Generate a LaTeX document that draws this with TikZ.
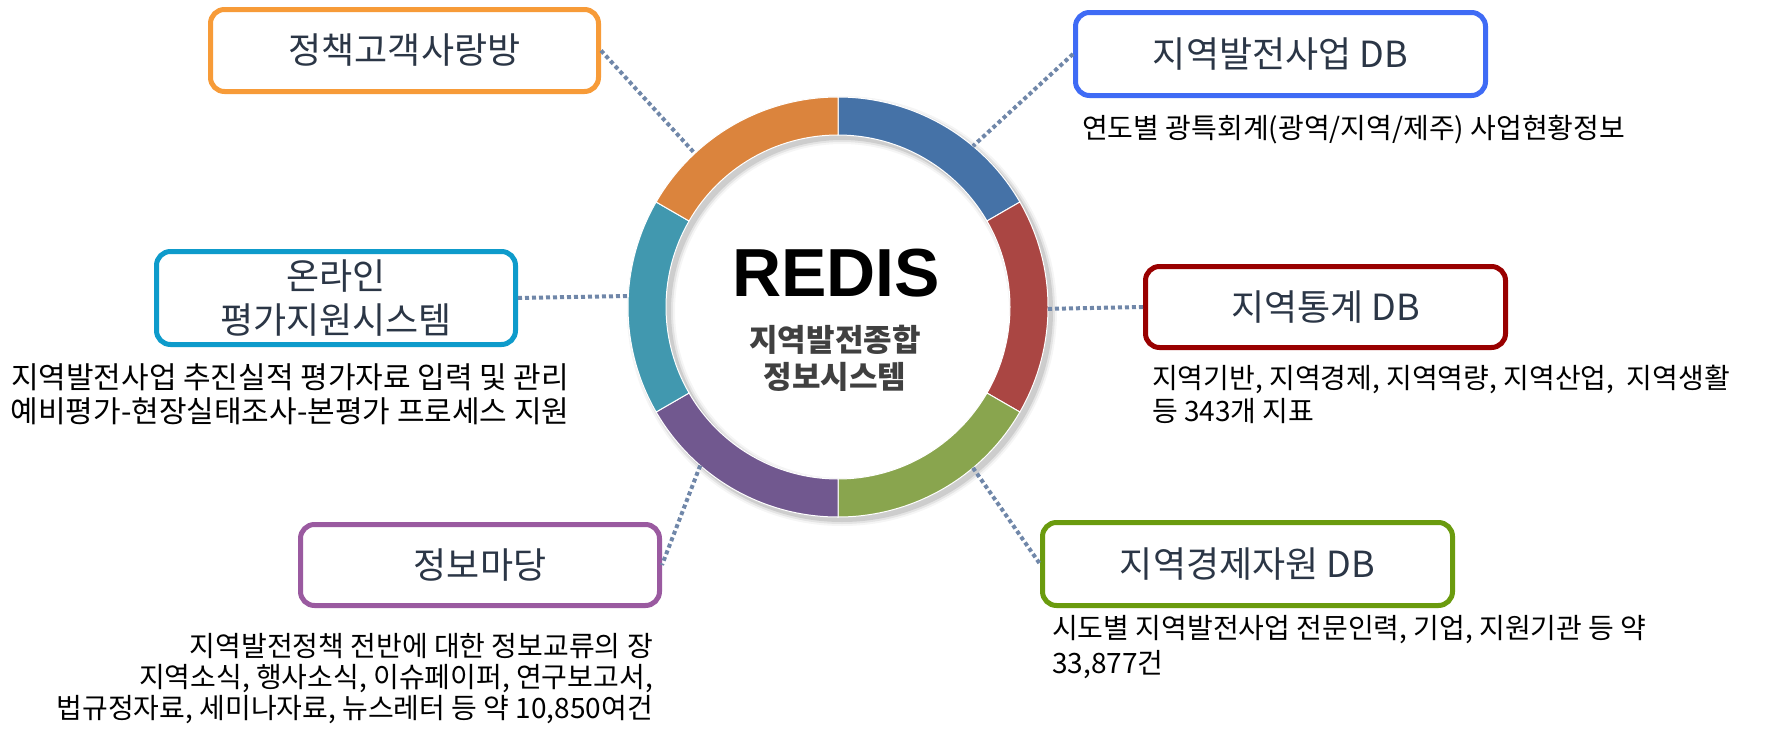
\documentclass[tikz,border=0pt]{standalone}
\usepackage{fontspec}
\setmainfont{Noto Sans CJK KR}
\newfontfamily\latinfont{Liberation Sans}
\usetikzlibrary{positioning,calc}

\definecolor{segBlue}{HTML}{4572A7}
\definecolor{segRed}{HTML}{AA4643}
\definecolor{segGreen}{HTML}{89A54E}
\definecolor{segPurple}{HTML}{71588F}
\definecolor{segTeal}{HTML}{4198AF}
\definecolor{segOrange}{HTML}{DB843D}
\definecolor{lineOrange}{HTML}{F79B38}
\definecolor{lineBlue}{HTML}{3F6BF5}
\definecolor{lineRed}{HTML}{990000}
\definecolor{lineGreen}{HTML}{6A9B0E}
\definecolor{lineTeal}{HTML}{0E9BCB}
\definecolor{linePurple}{HTML}{9A5AA0}
\definecolor{titleText}{HTML}{2B3646}
\definecolor{subGray}{HTML}{404040}
\definecolor{dotGray}{HTML}{7087A9}

\begin{document}
\begin{tikzpicture}[x=1pt, y=-1pt, node distance=10pt and 10pt]

\tikzset{
  box/.style={
    rectangle, rounded corners=14pt,
    draw, line width=5pt, fill=white, align=center,
    text=titleText, inner sep=0pt,
    font=\fontsize{36}{44}\selectfont
  },
  desc/.style={align=left, inner sep=3pt, font=\fontsize{28}{33}\selectfont},
  dotline/.style={draw=dotGray, line width=4pt, dash pattern=on 4pt off 3pt}
}

\useasboundingbox (0,0) rectangle (1769,728);

% ==========================
% Ring in the middle
% ==========================
\begin{scope}[shift={(838,307)}, y=1pt]
  \foreach \w/\o in {48pt/0.04, 44pt/0.07, 40pt/0.10}
    \draw[black, opacity=\o, line width=\w] (4,-4) circle (191);
  \foreach \a/\b/\c in {30/90/segBlue, -30/30/segRed, -90/-30/segGreen,
                        -150/-90/segPurple, 150/210/segTeal, 90/150/segOrange}
    \fill[\c, draw=white, line width=1pt] (\a:210) arc[start angle=\a, end angle=\b, radius=210]
      -- (\b:172) arc[start angle=\b, end angle=\a, radius=172] -- cycle;
  \coordinate (hookDev) at (50:210);
  \coordinate (hookStat) at (-0.5:210);
  \coordinate (hookRes) at (-50:210);
  \coordinate (hookMadang) at (-131:210);
  \coordinate (hookEval) at (177:210);
  \coordinate (hookSarang) at (133:210);
\end{scope}

\node[font=\latinfont\bfseries\fontsize{68}{68}\selectfont] (redis) at (836,273) {REDIS};
\node[font=\bfseries\fontsize{31}{37}\selectfont, text=subGray, align=center] (redisName) at (835,358)
{지역발전종합\\정보시스템};

% ==========================
% Boxes round the ring
% ==========================
\node[box, draw=lineOrange, minimum width=388pt, minimum height=82pt] (sarang) at (404.5,50.5) {정책고객사랑방};
\node[box, draw=lineBlue, minimum width=410pt, minimum height=83pt] (devDB) at (1280.5,54) {지역발전사업 DB};
\node[box, draw=lineRed, minimum width=360pt, minimum height=81pt] (statDB) at (1325.5,307) {지역통계 DB};
\node[box, draw=lineGreen, minimum width=410pt, minimum height=83pt] (resDB) at (1247.5,564) {지역경제자원 DB};
\node[box, draw=linePurple, minimum width=359pt, minimum height=81pt] (madang) at (480,565) {정보마당};
\node[box, draw=lineTeal, minimum width=359pt, minimum height=93pt] (evalSys) at (336,298) {온라인\\평가지원시스템};

% descriptions
\node[desc, below right=14pt and 6pt of devDB.south west] (devDesc)
{연도별 광특회계(광역/지역/제주) 사업현황정보};
\node[desc, below right=12pt and 6pt of statDB.south west] (statDesc)
{지역기반, 지역경제, 지역역량, 지역산업,\ \ 지역생활\\등 343개 지표};
\node[desc, below right=4pt and 9pt of resDB.south west, font=\fontsize{28}{35}\selectfont] (resDesc)
{시도별 지역발전사업 전문인력, 기업, 지원기관 등 약\\33,877건};
\node[desc, below left=22pt and 6pt of madang.south east, align=right, font=\fontsize{28}{31}\selectfont] (madangDesc)
{지역발전정책 전반에 대한 정보교류의 장\\지역소식, 행사소식, 이슈페이퍼, 연구보고서,\\법규정자료, 세미나자료, 뉴스레터 등 약 10,850여건};
\node[desc, below=13pt of evalSys.south, xshift=-46pt, align=center, font=\fontsize{30}{34}\selectfont] (evalDesc)
{지역발전사업 추진실적 평가자료 입력 및 관리\\예비평가-현장실태조사-본평가 프로세스 지원};

% dotted links
\draw[dotline] (sarang.east) -- (hookSarang);
\draw[dotline] (devDB.west) -- (hookDev);
\draw[dotline] (evalSys.east) -- (hookEval);
\draw[dotline] (hookStat) -- (statDB.west);
\draw[dotline] (hookRes) -- (resDB.west);
\draw[dotline] (hookMadang) -- (madang.east);

\end{tikzpicture}
\end{document}
